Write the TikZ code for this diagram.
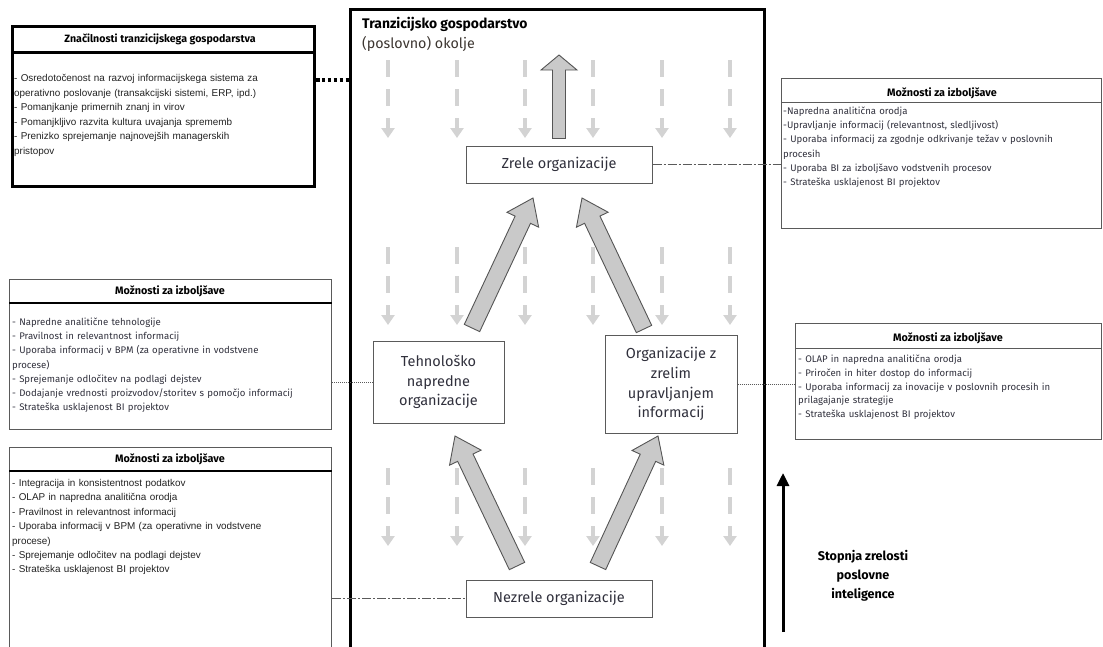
\documentclass[tikz,border=0pt]{standalone}
\usepackage{fontspec}
\setmainfont{Fira Sans}
\newfontfamily\arialfont{Liberation Sans}
\usetikzlibrary{calc,arrows.meta}

\definecolor{boxline}{HTML}{5A5A5A}
\definecolor{bodytext}{HTML}{30303C}
\definecolor{arialtext}{HTML}{222222}
\definecolor{fillgrey}{HTML}{C9C9C9}
\definecolor{arrowedge}{HTML}{555555}
\definecolor{faint}{HTML}{D3D3D3}
\definecolor{envtext}{HTML}{3C3530}

% block arrow: start, tip, half shaft width, half head width, head length
\newcommand\blockarrow[5]{%
  \coordinate (ba-h) at ($(#2)!#5!(#1)$);
  \draw[bigarrow] ($(#1)!#3!90:(#2)$) -- ($(ba-h)!#3!90:(#2)$) -- ($(ba-h)!#4!90:(#2)$)
    -- (#2) -- ($(ba-h)!#4!-90:(#2)$) -- ($(ba-h)!#3!-90:(#2)$) -- ($(#1)!#3!-90:(#2)$) -- cycle;
}

\begin{document}
\begin{tikzpicture}[x=1pt,y=-1pt,
  orgbox/.style={draw=boxline, line width=1pt, fill=white, inner sep=0pt, align=center,
    text=bodytext, font=\fontsize{14.5}{19.8}\selectfont},
  infobox/.style={draw=boxline, line width=1pt, inner sep=0pt, anchor=north west},
  boxtitle/.style={anchor=base, inner sep=0pt, font=\bfseries\fontsize{10.8}{12}\selectfont},
  boxbody/.style={anchor=base west, align=left, inner sep=0pt, text=bodytext},
  ptbody/.style={boxbody, font=\fontsize{9.6}{14.2}\selectfont},
  arbody/.style={boxbody, text=arialtext, font=\arialfont\fontsize{9.9}{14.6}\selectfont},
  thicksep/.style={line width=2.6pt, black},
  thinsep/.style={line width=1pt, boxline},
  bigarrow/.style={fill=fillgrey, draw=arrowedge, line width=0.9pt, line join=miter},
  faintarrow/.style={draw=faint, line width=4.5pt, dash pattern=on 17pt off 12pt,
    -{Triangle[width=13pt,length=10pt]}},
  heavydots/.style={line width=4pt, dash pattern=on 3.5pt off 2.4pt, black},
  finedots/.style={line width=0.8pt, dash pattern=on 1pt off 1pt, boxline},
  dashdot/.style={line width=0.8pt, dash pattern=on 9pt off 2pt on 2pt off 2pt, boxline},
]
\useasboundingbox (0,0) rectangle (1103,646);

% ---------- business environment frame ----------
\node[draw, line width=3pt, minimum width=414pt, minimum height=720pt, anchor=north west,
  inner sep=0pt] (env) at (349,8) {};
\node[anchor=base west, inner sep=0pt, font=\bfseries\fontsize{13.9}{16}\selectfont] (envtitle)
  at (362,28) {Tranzicijsko gospodarstvo};
\node[anchor=base west, inner sep=0pt, text=envtext, font=\fontsize{14.3}{16}\selectfont] (envsub)
  at (362,48) {(poslovno) okolje};

% ---------- environmental pressure (faint down arrows) ----------
\foreach \cx in {388,457,525,593,662,730}
  \foreach \cy in {60,247,468}
    \draw[faintarrow] (\cx,\cy) -- (\cx,\cy+78);

% ---------- maturity stages ----------
\node[orgbox, minimum width=186pt, minimum height=37pt] (zrele) at (559,164.5) {Zrele organizacije};
\node[orgbox, minimum width=131pt, minimum height=82pt] (tech) at (438.5,382)
  {Tehnološko\\napredne\\organizacije};
\node[orgbox, minimum width=132pt, minimum height=98pt] (org) at (671,384)
  {Organizacije z\\zrelim\\upravljanjem\\informacij};
\node[orgbox, minimum width=186pt, minimum height=37pt] (nez) at (559,598.5) {Nezrele organizacije};

% ---------- transitions between stages ----------
\coordinate (topS) at ($(zrele.north)+(0,-7)$);
\coordinate (topT) at (559,55);
\coordinate (ulS) at (472,328);  \coordinate (ulT) at (533,198);
\coordinate (urS) at (644,329);  \coordinate (urT) at (582,198);
\coordinate (llS) at (517,566);  \coordinate (llT) at (455,436);
\coordinate (lrS) at (598,566);  \coordinate (lrT) at (658,436);
\blockarrow{topS}{topT}{6.5pt}{18pt}{15pt}
\blockarrow{ulS}{ulT}{8.5pt}{17.5pt}{24pt}
\blockarrow{urS}{urT}{8.5pt}{17.5pt}{24pt}
\blockarrow{llS}{llT}{8.5pt}{17.5pt}{24pt}
\blockarrow{lrS}{lrT}{8.5pt}{17.5pt}{24pt}

% ---------- characteristics of the transition economy ----------
\node[infobox, draw=black, line width=3pt, minimum width=302pt, minimum height=160pt] (tl) at (11,25) {};
\node[boxtitle, font=\bfseries\fontsize{10.6}{12}\selectfont] (tltitle) at (160,42)
  {Značilnosti tranzicijskega gospodarstva};
\draw[line width=3pt, black] (tl.west |- 0,52) -- (tl.east |- 0,52);
\node[arbody, text width=300pt] (tlbody) at (14,81.5)
  {- Osredotočenost na razvoj informacijskega sistema za\\
   operativno poslovanje (transakcijski sistemi, ERP, ipd.)\\
   - Pomanjkanje primernih znanj in virov\\
   - Pomanjkljivo razvita kultura uvajanja sprememb\\
   - Prenizko sprejemanje najnovejših managerskih\\
   pristopov};

% ---------- improvement opportunities: mature organisations ----------
\node[infobox, minimum width=320pt, minimum height=150pt] (rtop) at (781,78) {};
\node[boxtitle] (rtoptitle) at (942,96) {Možnosti za izboljšave};
\draw[thinsep] (rtop.west |- 0,102) -- (rtop.east |- 0,102);
\node[ptbody, text width=318pt] (rtopbody) at (783,114.5)
  {-Napredna analitična orodja\\
   -Upravljanje informacij (relevantnost, sledljivost)\\
   - Uporaba informacij za zgodnje odkrivanje težav v poslovnih\\
   procesih\\
   - Uporaba BI za izboljšavo vodstvenih procesov\\
   - Strateška usklajenost BI projektov};

% ---------- improvement opportunities: technologically advanced ----------
\node[infobox, minimum width=322pt, minimum height=150pt] (lmid) at (9,279) {};
\node[boxtitle] (lmidtitle) at (170,294) {Možnosti za izboljšave};
\draw[thicksep] (lmid.west |- 0,303) -- (lmid.east |- 0,303);
\node[ptbody, text width=320pt] (lmidbody) at (12,325.5)
  {- Napredne analitične tehnologije\\
   - Pravilnost in relevantnost informacij\\
   - Uporaba informacij v BPM (za operativne in vodstvene\\
   procese)\\
   - Sprejemanje odločitev na podlagi dejstev\\
   - Dodajanje vrednosti proizvodov/storitev s pomočjo informacij\\
   - Strateška usklajenost BI projektov};

% ---------- improvement opportunities: information management ----------
\node[infobox, minimum width=306pt, minimum height=116pt] (rmid) at (795,323) {};
\node[boxtitle] (rmidtitle) at (948,341) {Možnosti za izboljšave};
\draw[thinsep] (rmid.west |- 0,348) -- (rmid.east |- 0,348);
\node[ptbody, text width=304pt, font=\fontsize{9.6}{13.8}\selectfont] (rmidbody) at (798,362.5)
  {- OLAP in napredna analitična orodja\\
   - Priročen in hiter dostop do informacij\\
   - Uporaba informacij za inovacije v poslovnih procesih in\\
   prilagajanje strategije\\
   - Strateška usklajenost BI projektov};

% ---------- improvement opportunities: immature organisations ----------
\node[infobox, minimum width=322pt, minimum height=260pt] (lbot) at (9,447) {};
\node[boxtitle] (lbottitle) at (170,462) {Možnosti za izboljšave};
\draw[thicksep] (lbot.west |- 0,471) -- (lbot.east |- 0,471);
\node[arbody, text width=320pt, font=\arialfont\fontsize{9.9}{14.4}\selectfont] (lbotbody) at (12,486.5)
  {- Integracija in konsistentnost podatkov\\
   - OLAP in napredna analitična orodja\\
   - Pravilnost in relevantnost informacij\\
   - Uporaba informacij v BPM (za operativne in vodstvene\\
   procese)\\
   - Sprejemanje odločitev na podlagi dejstev\\
   - Strateška usklajenost BI projektov};

% ---------- links between boxes ----------
\draw[heavydots] (tl.east |- 0,80) -- (env.west |- 0,80);
\draw[dashdot] (zrele.east) -- (rtop.west |- zrele.east);
\draw[finedots] (lmid.east |- tech.west) -- (tech.west);
\draw[finedots] (org.east) -- (rmid.west |- org.east);
\draw[dashdot] (lbot.east |- nez.west) -- (nez.west);

% ---------- maturity scale ----------
\coordinate (lvlbot) at (783,632);
\coordinate (lvltop) at (783,473);
\draw[line width=3pt, -{Triangle[width=12pt,length=13pt]}] (lvlbot) -- (lvltop);
\node[align=center, inner sep=0pt, font=\bfseries\fontsize{12.6}{19}\selectfont] (lvltext)
  at (863,576) {Stopnja zrelosti\\poslovne\\inteligence};
\end{tikzpicture}
\end{document}
